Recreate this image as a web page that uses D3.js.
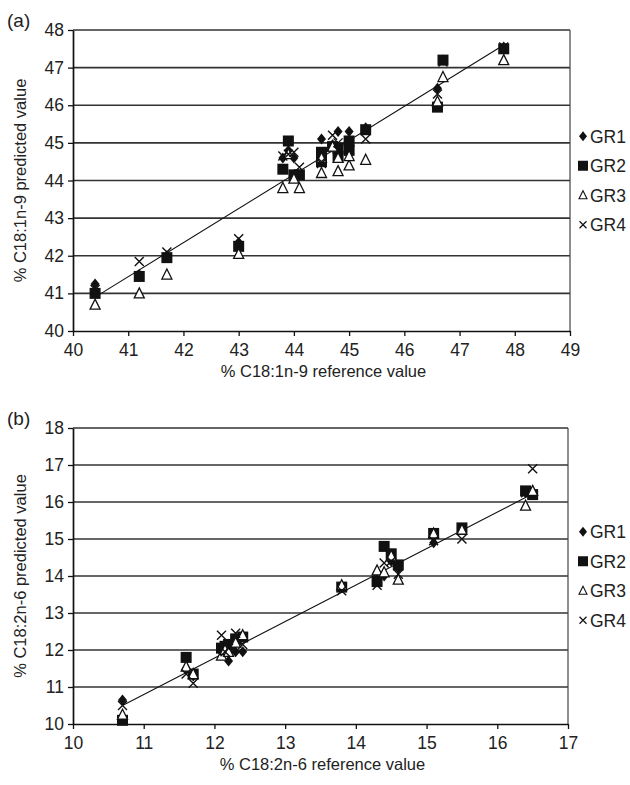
<!DOCTYPE html>
<html><head><meta charset="utf-8">
<script src="https://cdn.jsdelivr.net/npm/d3@7"></script>
<style>body{margin:0;background:#fff}svg{display:block;font-family:"Liberation Sans",Arial,sans-serif}</style>
</head><body><svg id="c" width="630" height="785"></svg>
<script>
// Panel (a): C18:1n-9
const refA = [40.4,41.2,41.7,43.0,43.8,43.9,44.0,44.1,44.5,44.5,44.7,44.8,44.8,45.0,45.0,45.3,46.6,46.7,47.8];
const a_GR1 = [41.25,41.5,42.0,42.35,44.6,44.8,44.6,44.15,45.1,44.6,44.95,45.3,44.8,45.3,45.0,45.4,46.45,47.2,47.55];
const a_GR2 = [41.0,41.45,41.95,42.25,44.3,45.05,44.15,44.15,44.75,44.5,44.9,44.85,44.65,45.05,44.8,45.35,45.95,47.2,47.5];
const a_GR3 = [40.7,41.0,41.5,42.05,43.8,44.7,44.05,43.8,44.2,44.6,44.9,44.25,44.6,44.4,44.65,44.55,46.1,46.75,47.2];
const a_GR4 = [41.1,41.85,42.1,42.45,44.65,44.7,44.75,44.35,44.45,44.5,45.2,45.0,44.8,44.9,44.95,45.1,46.3,47.15,47.55];
const fitA = [[40.4,40.9],[47.8,47.6]];
const xTicksA = [40,41,42,43,44,45,46,47,48,49];
const yTicksA = [40,41,42,43,44,45,46,47,48];

// Panel (b): C18:2n-6
const refB = [10.7,11.6,11.7,12.1,12.15,12.2,12.3,12.4,13.8,14.3,14.4,14.5,14.6,15.1,15.5,16.4,16.5];
const b_GR1 = [10.65,11.5,11.3,11.95,12.05,11.7,11.95,11.95,13.7,13.9,14.0,14.4,14.2,14.9,15.25,16.25,16.2];
const b_GR2 = [10.1,11.8,11.35,12.05,12.1,12.15,12.3,12.35,13.7,13.85,14.8,14.6,14.3,15.15,15.3,16.3,16.2];
const b_GR3 = [10.25,11.55,11.35,11.85,12.0,11.95,12.2,12.4,13.75,14.15,14.1,14.55,13.9,15.15,15.25,15.9,16.3];
const b_GR4 = [10.5,11.35,11.1,12.4,11.95,12.05,12.45,12.15,13.6,13.75,14.35,14.4,14.05,14.95,15.0,16.25,16.9];
const fitB = [[10.7,10.5],[16.5,16.22]];
const xTicksB = [10,11,12,13,14,15,16,17];
const yTicksB = [10,11,12,13,14,15,16,17,18];

const seriesNames = ["GR1","GR2","GR3","GR4"];

const svg = d3.select("#c");

function marker(g, type, x, y) {
  if (type === "GR1") {
    g.append("path").attr("d", `M${x},${y-5.5}L${x+4.5},${y}L${x},${y+5.5}L${x-4.5},${y}Z`).attr("fill","#111");
  } else if (type === "GR2") {
    g.append("rect").attr("x",x-5.5).attr("y",y-5.5).attr("width",11).attr("height",11).attr("fill","#111");
  } else if (type === "GR3") {
    g.append("path").attr("d", `M${x},${y-5.5}L${x+5},${y+4.5}L${x-5},${y+4.5}Z`).attr("fill","#fff").attr("stroke","#111").attr("stroke-width",1.3);
  } else {
    g.append("path").attr("d", `M${x-4.5},${y-4.5}L${x+4.5},${y+4.5}M${x+4.5},${y-4.5}L${x-4.5},${y+4.5}`).attr("stroke","#111").attr("stroke-width",1.4);
  }
}

function panel(opt) {
  const {left,right,top,bottom,xDom,yDom,xTicks,yTicks,ref,series,fit,label,xTitle,yTitle} = opt;
  const x = d3.scaleLinear().domain(xDom).range([left,right]);
  const y = d3.scaleLinear().domain(yDom).range([bottom,top]);
  const g = svg.append("g");
  g.selectAll(".grid").data(yTicks.slice(1)).join("line")
    .attr("x1",left).attr("x2",right).attr("y1",d=>y(d)).attr("y2",d=>y(d))
    .attr("stroke","#333").attr("stroke-width",1.7);
  g.append("line").attr("x1",right).attr("x2",right).attr("y1",top).attr("y2",bottom).attr("stroke","#444").attr("stroke-width",1.2);
  const ax = g.append("g").attr("transform",`translate(0,${bottom})`)
    .call(d3.axisBottom(x).tickValues(xTicks).tickSize(5).tickSizeOuter(0).tickFormat(d3.format("d")));
  const ay = g.append("g").attr("transform",`translate(${left},0)`)
    .call(d3.axisLeft(y).tickValues(yTicks).tickSize(5).tickSizeOuter(0).tickFormat(d3.format("d")));
  [ax,ay].forEach(a=>{
    a.select(".domain").attr("stroke","#111").attr("stroke-width",1.7);
    a.selectAll(".tick line").attr("stroke","#111").attr("stroke-width",1.3);
    a.selectAll("text").attr("font-size",17.5).attr("fill","#222").attr("font-family","Liberation Sans, Arial, sans-serif");
  });
  ax.selectAll("text").attr("dy","0.95em");
  ay.selectAll("text").attr("dx","-1");
  g.append("line").attr("x1",x(fit[0][0])).attr("y1",y(fit[0][1])).attr("x2",x(fit[1][0])).attr("y2",y(fit[1][1]))
    .attr("stroke","#111").attr("stroke-width",1.1);
  const mg = g.append("g");
  seriesNames.forEach((s,i)=>{
    series[i].forEach((v,j)=>marker(mg,s,x(ref[j]),y(v)));
  });
  const lg = g.append("g");
  const lyMid = (top+bottom)/2;
  seriesNames.forEach((s,i)=>{
    const ly = lyMid + (i-1.5)*29.5;
    const mg2 = lg.append("g");
    if (s==="GR1") mg2.append("path").attr("d",`M${583},${ly-5}L${587},${ly}L${583},${ly+5}L${579},${ly}Z`).attr("fill","#111");
    else if (s==="GR2") mg2.append("rect").attr("x",578).attr("y",ly-5).attr("width",10).attr("height",10).attr("fill","#111");
    else if (s==="GR3") mg2.append("path").attr("d",`M583,${ly-4.5}L587,${ly+3.5}L579,${ly+3.5}Z`).attr("fill","#fff").attr("stroke","#111").attr("stroke-width",1.1);
    else mg2.append("path").attr("d",`M${579.5},${ly-3.5}L${586.5},${ly+3.5}M${586.5},${ly-3.5}L${579.5},${ly+3.5}`).attr("stroke","#111").attr("stroke-width",1.2);
    lg.append("text").attr("x",590).attr("y",ly).attr("dy","0.36em").attr("font-size",17.5).attr("fill","#222").text(s);
  });
  g.append("text").attr("x",(left+right)/2+2).attr("y",bottom+46).attr("text-anchor","middle")
    .attr("font-size",16.5).attr("fill","#222").text(xTitle);
  g.append("text").attr("transform",`translate(26,${(top+bottom)/2}) rotate(-90)`).attr("text-anchor","middle")
    .attr("font-size",16.5).attr("fill","#222").text(yTitle);
  g.append("text").attr("x",7).attr("y",top-10).attr("dy","0.36em").attr("font-size",19).attr("fill","#222").text(label);
}

panel({left:73,right:570,top:30,bottom:331,xDom:[40,49],yDom:[40,48],xTicks:xTicksA,yTicks:yTicksA,
  ref:refA,series:[a_GR1,a_GR2,a_GR3,a_GR4],fit:fitA,label:"(a)",
  xTitle:"% C18:1n-9 reference value",yTitle:"% C18:1n-9 predicted value"});
panel({left:73,right:568,top:428,bottom:724,xDom:[10,17],yDom:[10,18],xTicks:xTicksB,yTicks:yTicksB,
  ref:refB,series:[b_GR1,b_GR2,b_GR3,b_GR4],fit:fitB,label:"(b)",
  xTitle:"% C18:2n-6 reference value",yTitle:"% C18:2n-6 predicted value"});
</script></body></html>
